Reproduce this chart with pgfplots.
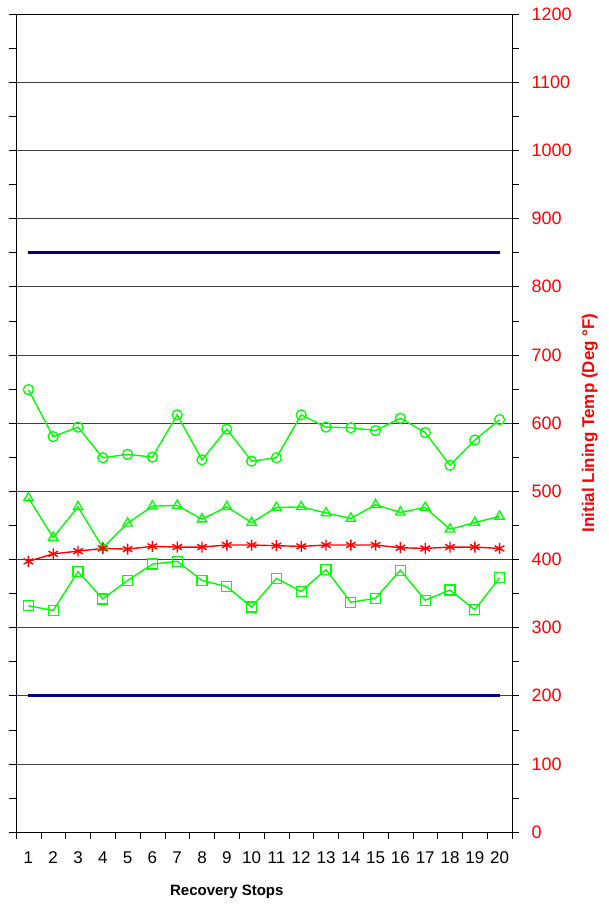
\documentclass[border=0pt]{standalone}
\usepackage{fontspec}
\setmainfont{Liberation Sans}
\usepackage{pgfplots}
\pgfplotsset{compat=1.18}
\usepackage{pgfplotstable}

\definecolor{navy}{RGB}{0,0,128}
\definecolor{lgreen}{RGB}{0,255,0}
\definecolor{lred}{RGB}{255,0,0}

% stop, circle, triangle, star, square, upper limit, lower limit
\pgfplotstableread{
x  c    t    s    q    hi   lo
1  649  490  397  332  850  200
2  580  432  408  325  850  200
3  594  477  412  382  850  200
4  549  417  416  342  850  200
5  554  453  415  369  850  200
6  550  478  419  393  850  200
7  612  479  418  397  850  200
8  546  459  418  369  850  200
9  591  477  421  360  850  200
10 544  454  421  330  850  200
11 549  476  420  372  850  200
12 612  477  419  353  850  200
13 594  468  421  385  850  200
14 593  460  421  337  850  200
15 589  480  421  343  850  200
16 607  469  417  384  850  200
17 586  476  416  340  850  200
18 538  444  418  355  850  200
19 575  454  418  326  850  200
20 605  463  416  373  850  200
}\stops

\begin{document}
\begin{tikzpicture}
\begin{axis}[
    name=ax,
    scale only axis,
    width=496pt, height=818pt,
    xmin=0.5, xmax=20.5,
    ymin=0, ymax=1200,
    xtick={1,...,20},
    minor xtick={0.5,1.5,...,20.5},
    xtick pos=bottom,
    major x tick style={draw=none},
    minor x tick style={black, thin},
    minor tick length=7pt,
    ytick distance=100,
    minor y tick num=1,
    ytick pos=both,
    yticklabel pos=right,
    tick align=outside,
    major tick length=7pt,
    y tick style={black, thin},
    ymajorgrids,
    major grid style={black!75, thin},
    axis line style={black, thin},
    /pgf/number format/assume math mode=true,
    /pgf/number format/1000 sep={},
    xticklabel style={font=\fontsize{17}{17}\selectfont, yshift=-9pt},
    yticklabel style={font=\fontsize{18}{18}\selectfont, text=lred, xshift=9pt},
    xlabel={Recovery Stops},
    xlabel style={font=\fontsize{15}{15}\selectfont\bfseries, at={(axis description cs:0.425,0)}, anchor=center, yshift=-60pt},
    ylabel={Initial Lining Temp (Deg \textdegree F)},
    ylabel style={font=\fontsize{17}{17}\selectfont\bfseries, text=lred, at={(axis description cs:1.157,0.5)}, anchor=center},
]
\addplot[navy, line width=3pt] table[x=x, y=hi] {\stops};
\addplot[navy, line width=3pt] table[x=x, y=lo] {\stops};
\addplot[lgreen, line width=1.4pt, mark=o, mark size=5pt, mark options={line width=1.3pt}] table[x=x, y=c] {\stops};
\addplot[lgreen, line width=1.4pt, mark=triangle, mark size=5.5pt, mark options={line width=1.3pt}] table[x=x, y=t] {\stops};
\addplot[lred, line width=1.4pt, mark=asterisk, mark size=5.5pt, mark options={line width=1.4pt}] table[x=x, y=s] {\stops};
\addplot[lgreen, line width=1.4pt, mark=square, mark size=5pt, mark options={line width=1.3pt}] table[x=x, y=q] {\stops};
\end{axis}
\pgfresetboundingbox
\path ([shift={(-16pt,-72pt)}]ax.south west) rectangle ([shift={(96pt,14pt)}]ax.north east);
\end{tikzpicture}
\end{document}
